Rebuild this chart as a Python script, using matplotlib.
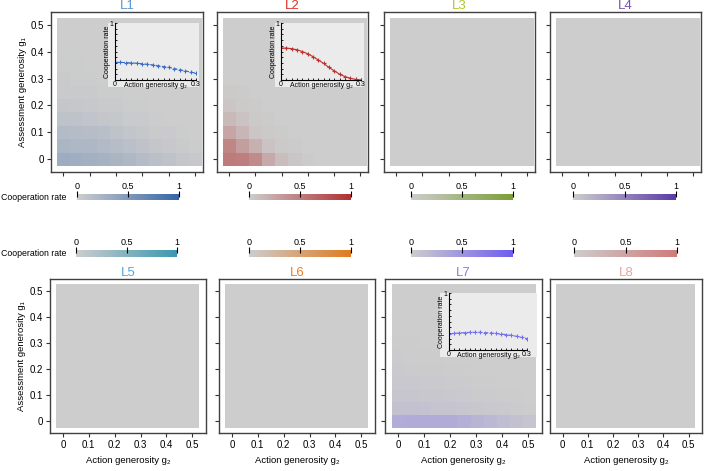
import numpy as np
import matplotlib
matplotlib.use('Agg')
import matplotlib.pyplot as plt
from matplotlib.colors import LinearSegmentedColormap
from matplotlib.patches import Rectangle

plt.rcParams['font.family'] = ['Liberation Sans', 'DejaVu Sans']

W, H = 709, 471

# ---- data ----
names = ['L1', 'L2', 'L3', 'L4', 'L5', 'L6', 'L7', 'L8']
title_colors = ['#5b93d3', '#e0302a', '#b5c52b', '#7a4fb5',
                '#55a8d6', '#e87d2c', '#8c7ae6', '#f0a0a0']
cmap_ends = ['#3565a8', '#b03030', '#7a9e34', '#5a3aa8',
             '#3a98b0', '#e07a20', '#6e5cf0', '#d07a7a']

tick_vals = [0, 0.1, 0.2, 0.3, 0.4, 0.5]
tick_labels = ['0', '0.1', '0.2', '0.3', '0.4', '0.5']

# cooperation rate, rows = g1 (0 .. 0.5), cols = g2 (0 .. 0.5)
z_L1 = [
    [0.31, 0.30, 0.28, 0.26, 0.23, 0.20, 0.16, 0.12, 0.09, 0.06, 0.04],
    [0.22, 0.21, 0.20, 0.18, 0.15, 0.12, 0.09, 0.06, 0.04, 0.02, 0.01],
    [0.17, 0.16, 0.15, 0.13, 0.10, 0.07, 0.05, 0.03, 0.02, 0.01, 0.00],
    [0.10, 0.09, 0.08, 0.06, 0.05, 0.03, 0.02, 0.01, 0.00, 0.00, 0.00],
    [0.06, 0.05, 0.04, 0.03, 0.02, 0.01, 0.01, 0.00, 0.00, 0.00, 0.00],
    [0.03, 0.03, 0.02, 0.01, 0.01, 0.00, 0.00, 0.00, 0.00, 0.00, 0.00],
    [0.02, 0.01, 0.01, 0.00, 0.00, 0.00, 0.00, 0.00, 0.00, 0.00, 0.00],
    [0.01, 0.01, 0.00, 0.00, 0.00, 0.00, 0.00, 0.00, 0.00, 0.00, 0.00],
    [0.00] * 11,
    [0.00] * 11,
    [0.00] * 11,
]
z_L2 = [
    [0.52, 0.50, 0.42, 0.22, 0.10, 0.04, 0.01, 0.00, 0.00, 0.00, 0.00],
    [0.45, 0.30, 0.18, 0.06, 0.02, 0.01, 0.00, 0.00, 0.00, 0.00, 0.00],
    [0.25, 0.15, 0.05, 0.02, 0.01, 0.00, 0.00, 0.00, 0.00, 0.00, 0.00],
    [0.12, 0.06, 0.02, 0.01, 0.00, 0.00, 0.00, 0.00, 0.00, 0.00, 0.00],
    [0.05, 0.02, 0.01, 0.00, 0.00, 0.00, 0.00, 0.00, 0.00, 0.00, 0.00],
    [0.02, 0.01, 0.00, 0.00, 0.00, 0.00, 0.00, 0.00, 0.00, 0.00, 0.00],
    [0.00] * 11,
    [0.00] * 11,
    [0.00] * 11,
    [0.00] * 11,
    [0.00] * 11,
]
z_L7 = [
    [0.28, 0.29, 0.30, 0.30, 0.29, 0.26, 0.22, 0.18, 0.14, 0.10, 0.07],
    [0.10, 0.10, 0.09, 0.08, 0.07, 0.06, 0.05, 0.04, 0.03, 0.02, 0.01],
    [0.06, 0.06, 0.05, 0.05, 0.04, 0.03, 0.02, 0.02, 0.01, 0.01, 0.00],
    [0.04, 0.04, 0.03, 0.03, 0.02, 0.02, 0.01, 0.01, 0.00, 0.00, 0.00],
    [0.03, 0.02, 0.02, 0.02, 0.01, 0.01, 0.00, 0.00, 0.00, 0.00, 0.00],
    [0.02, 0.01, 0.01, 0.01, 0.00, 0.00, 0.00, 0.00, 0.00, 0.00, 0.00],
    [0.01, 0.01, 0.00, 0.00, 0.00, 0.00, 0.00, 0.00, 0.00, 0.00, 0.00],
    [0.00] * 11,
    [0.00] * 11,
    [0.00] * 11,
    [0.00] * 11,
]
z_zero = np.zeros((11, 11))
heat = {'L1': z_L1, 'L2': z_L2, 'L7': z_L7}

# insets: cooperation rate at g1 = 0 vs action generosity g2
inset_x = [0.0, 0.02, 0.04, 0.06, 0.08, 0.10, 0.12, 0.14,
           0.16, 0.18, 0.20, 0.22, 0.24, 0.26, 0.28, 0.30]
inset_L1 = [0.31, 0.31, 0.305, 0.30, 0.295, 0.285, 0.275, 0.265,
            0.25, 0.235, 0.22, 0.20, 0.18, 0.16, 0.14, 0.12]
inset_L2 = [0.56, 0.56, 0.55, 0.53, 0.50, 0.46, 0.41, 0.35,
            0.29, 0.22, 0.16, 0.10, 0.06, 0.03, 0.01, 0.00]
inset_L7 = [0.28, 0.29, 0.30, 0.305, 0.31, 0.31, 0.31, 0.305,
            0.30, 0.29, 0.28, 0.27, 0.255, 0.24, 0.22, 0.20]
insets = {'L1': (inset_L1, '#3a6cc8', '--'),
          'L2': (inset_L2, '#c03030', '-'),
          'L7': (inset_L7, '#7070f0', '--')}

# ---- layout (pixel boxes, top-left origin) ----
def rect(x0, y0, x1, y1):
    return [x0 / W, 1 - y1 / H, (x1 - x0) / W, (y1 - y0) / H]

ax_boxes = [(51, 12, 203, 172), (217, 12, 368, 172), (384, 12, 535, 172), (550, 12, 701, 172),
            (50, 279, 206, 433), (219, 279, 375, 433), (385, 279, 542, 433), (550, 279, 702, 433)]
cb_boxes = [(77, 194, 179, 200), (249, 194, 351, 200), (411, 194, 513, 200), (573, 194, 676, 200),
            (76, 250, 177, 257), (249, 250, 351, 257), (411, 250, 513, 257), (574, 250, 677, 257)]
inset_boxes = {'L1': ((115, 23, 196, 80), (108, 23, 199, 87)),
               'L2': ((281, 23, 361, 80), (275, 23, 364, 87)),
               'L7': ((449, 293, 527, 350), (440, 293, 537, 357))}

fig = plt.figure(figsize=(W / 100, H / 100), dpi=100)

for i, name in enumerate(names):
    top = i < 4
    ax = fig.add_axes(rect(*ax_boxes[i]))
    cmap = LinearSegmentedColormap.from_list(name, ['#cdcdcd', cmap_ends[i]])
    z = np.array(heat.get(name, z_zero))
    im = ax.imshow(z, origin='lower', cmap=cmap, vmin=0, vmax=1,
                   extent=(-0.025, 0.525, -0.025, 0.525), aspect='auto',
                   interpolation='nearest')
    if top:
        ax.set_xlim(-0.047, 0.53)
        ax.set_ylim(-0.048, 0.548)
    else:
        ax.set_xlim(-0.05, 0.553)
        ax.set_ylim(-0.046, 0.546)
    ax.set_xticks(tick_vals)
    ax.set_yticks(tick_vals)
    ax.set_xticklabels(tick_labels if not top else [])
    ax.set_yticklabels(tick_labels if i in (0, 4) else [])
    ax.tick_params(direction='out', length=3, width=0.8, labelsize=7, pad=2, colors='#333333',
                   labelcolor='black')
    for s in ax.spines.values():
        s.set_color('#404040')
        s.set_linewidth(1.0)
    ax.set_title(name, color=title_colors[i], fontsize=9.5, pad=0.5)
    if i in (0, 4):
        ax.set_ylabel('Assessment generosity g\u2081', fontsize=6.8, labelpad=3)
    if not top:
        ax.set_xlabel('Action generosity g\u2082', fontsize=6.8, labelpad=4.5)

    # colorbar
    cax = fig.add_axes(rect(*cb_boxes[i]))
    cb = fig.colorbar(im, cax=cax, orientation='horizontal')
    cb.outline.set_visible(False)
    cb.set_ticks([0, 0.5, 1])
    cb.set_ticklabels(['0', '0.5', '1'])
    cax.xaxis.set_ticks_position('top')
    cax.tick_params(direction='inout', length=5, width=0.8, labelsize=6.5, pad=0)

    # inset
    if name in insets:
        yvals, col, ls = insets[name]
        abox, bbox = inset_boxes[name]
        bx0, by0, bx1, by1 = bbox
        ax.add_patch(Rectangle((bx0 / W, 1 - by1 / H), (bx1 - bx0) / W, (by1 - by0) / H,
                               transform=fig.transFigure, facecolor='#ebebeb',
                               edgecolor='none', zorder=5))
        iax = fig.add_axes(rect(*abox), facecolor='#ebebeb')
        iax.plot(inset_x, yvals, color=col, linestyle=ls, linewidth=0.8,
                 marker='+', markersize=2.5, markeredgewidth=0.8)
        iax.set_xlim(0, 0.3)
        iax.set_ylim(0, 1)
        iax.spines['top'].set_visible(False)
        iax.spines['right'].set_visible(False)
        for s in ('left', 'bottom'):
            iax.spines[s].set_linewidth(0.8)
            iax.spines[s].set_color('black')
        iax.set_xticks([0, 0.3])
        iax.set_xticklabels(['0', '0.3'])
        iax.set_yticks([1])
        iax.set_yticklabels(['1'])
        iax.set_xticks(inset_x, minor=True)
        iax.set_yticks([0.1, 0.2, 0.3, 0.4, 0.5, 0.6, 0.7, 0.8, 0.9], minor=True)
        iax.tick_params(which='both', direction='in', length=1.5, width=0.6,
                        labelsize=5, pad=1)
        iax.text(0.5, -0.04, 'Action generosity g\u2082', transform=iax.transAxes,
                 ha='center', va='top', fontsize=5)
        iax.set_ylabel('Cooperation rate', fontsize=5, labelpad=1)
        iax.yaxis.set_label_coords(-0.05, 0.5)

fig.text(1 / W, 1 - 197 / H, 'Cooperation rate', fontsize=6.3, ha='left', va='center')
fig.text(1 / W, 1 - 254 / H, 'Cooperation rate', fontsize=6.3, ha='left', va='center')

fig.savefig('out.png', dpi=100)
